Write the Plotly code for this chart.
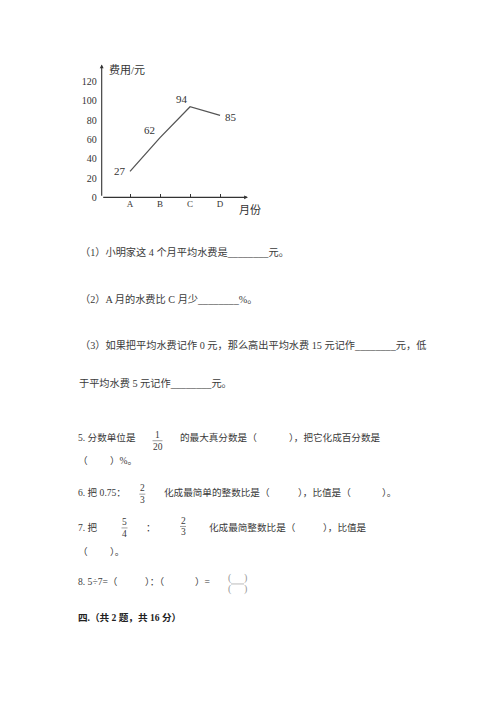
import plotly.graph_objects as go

# ---- data ----
months = ["A", "B", "C", "D"]
fees = [27, 62, 94, 85]
y_ticks = [0, 20, 40, 60, 80, 100, 120]
y_title = "费用/元"
x_title = "月份"

# the page body has an 8px margin, so the figure is drawn 8px in from the corner
OFF = 8
W, H = 500 - 2 * OFF, 707 - 2 * OFF
SERIF = "Liberation Serif, Noto Sans CJK SC, serif"
TXT = "#3a3a3a"


def px(x):
    return (x - OFF) / W


def py(y):
    return 1 - (y - OFF) / H


xs = list(range(len(months)))
x_lo, x_hi = -0.943, 3.93
y_lo, y_hi = 0, 137.8

fig = go.Figure()
fig.add_trace(go.Scatter(
    x=xs, y=fees, mode="lines",
    line=dict(color="#555555", width=1.3),
    hoverinfo="skip", showlegend=False,
))

ann = []
# axis arrows
ann.append(dict(x=x_hi, y=0, ax=x_lo, ay=0, xref="x", yref="y", axref="x", ayref="y",
                showarrow=True, arrowhead=2, arrowsize=0.7, arrowwidth=1.1,
                arrowcolor="#333333", text=""))
ann.append(dict(x=x_lo, y=y_hi, ax=x_lo, ay=0, xref="x", yref="y", axref="x", ayref="y",
                showarrow=True, arrowhead=2, arrowsize=0.7, arrowwidth=1.1,
                arrowcolor="#333333", text=""))

# value labels
offsets = [("right", -2, 0), ("right", -3, 8), ("right", 0, 8), ("left", 3, -2)]
for xi, v, (anc, dx, dy) in zip(xs, fees, offsets):
    ann.append(dict(x=xi, y=v, xref="x", yref="y", text=str(v), showarrow=False,
                    xanchor=anc, yanchor="middle", xshift=dx, yshift=dy,
                    font=dict(family=SERIF, size=11, color="#333333")))

# axis titles
ann.append(dict(x=px(107), y=py(71), xref="paper", yref="paper", text=y_title,
                showarrow=False, xanchor="left", yanchor="middle",
                font=dict(family=SERIF, size=11, color="#333333")))
ann.append(dict(x=px(236.5), y=py(212), xref="paper", yref="paper", text=x_title,
                showarrow=False, xanchor="left", yanchor="middle",
                font=dict(family=SERIF, size=11, color="#333333")))


def T(x, y, s, size=10.2, anchor="left", bold=False, color=TXT):
    if bold:
        s = "<b>" + s + "</b>"
    ann.append(dict(x=px(x), y=py(y), xref="paper", yref="paper", text=s,
                    showarrow=False, xanchor=anchor, yanchor="middle",
                    font=dict(family=SERIF, size=size, color=color)))


shapes = []


def frac(xc, y_num, y_den, num, den, size=9.5, bar=True, half=5):
    T(xc, y_num, num, size=size, anchor="center")
    T(xc, y_den, den, size=size, anchor="center")
    if bar:
        yb = (y_num + y_den) / 2
        shapes.append(dict(type="line", xref="paper", yref="paper",
                           x0=px(xc - half), x1=px(xc + half), y0=py(yb), y1=py(yb),
                           line=dict(color="#888888", width=0.8)))


# questions (1)-(3)
T(78, 254, "（1）小明家这 4 个月平均水费是________元。")
T(78, 302, "（2）A 月的水费比 C 月少________%。")
T(78, 348, "（3）如果把平均水费记作 0 元，那么高出平均水费 15 元记作________元，低")
T(77, 386, "于平均水费 5 元记作________元。")

QS = 9.6
# 5
T(76, 441, "5. 分数单位是", size=QS)
frac(157.5, 438.5, 450.5, "1", "20", half=5)
T(178, 441, "的最大真分数是（", size=QS)
T(383, 441, "），把它化成百分数是", size=QS, anchor="right")
T(76, 464, "（", size=QS)
T(108, 464, "）%。", size=QS)
# 6
T(76, 497, "6. 把 0.75：", size=QS)
frac(142.3, 492.5, 504.3, "2", "3", half=3)
T(162, 497, "化成最简单的整数比是（", size=QS)
T(296, 497, "），比值是（", size=QS)
T(380, 497, "）。", size=QS)
# 7
T(76, 532, "7. 把", size=QS)
frac(124.5, 526, 539, "5", "4", half=3)
T(151, 532, "：", size=QS, anchor="center")
frac(183, 525, 537, "2", "3", half=3)
T(207, 532, "化成最简整数比是（", size=QS)
T(321, 532, "），比值是", size=QS)
T(76, 556, "（", size=QS)
T(108, 556, "）。", size=QS)
# 8
T(76, 587, "8. 5÷7=（", size=QS)
T(143, 587, "）：（", size=QS)
T(193, 587, "）=", size=QS)
for yy in (583, 594):
    T(230, yy, "(", size=10, anchor="center", color="#999999")
    T(245, yy, ")", size=10, anchor="center", color="#999999")
shapes.append(dict(type="line", xref="paper", yref="paper",
                   x0=px(231), x1=px(244), y0=py(589), y1=py(589),
                   line=dict(color="#aaaaaa", width=0.8)))
# header
T(76, 623, "四.（共 2 题，共 16 分）", size=QS, bold=True, color="#222222")

fig.update_layout(
    width=W, height=H,
    margin=dict(l=0, r=0, t=0, b=0),
    paper_bgcolor="white", plot_bgcolor="white",
    showlegend=False,
    xaxis=dict(domain=[px(101.7), px(248)], range=[x_lo, x_hi],
               tickvals=xs, ticktext=months, ticks="inside", ticklen=3,
               tickcolor="#333333", showgrid=False, zeroline=False, showline=False,
               tickfont=dict(family=SERIF, size=9, color="#333333"), fixedrange=True),
    yaxis=dict(domain=[py(199), py(65)], range=[y_lo, y_hi],
               tickvals=y_ticks, ticks="", showgrid=False, zeroline=False,
               showline=False, ticklabelstandoff=4,
               tickfont=dict(family=SERIF, size=10, color="#333333"), fixedrange=True),
    annotations=ann,
    shapes=shapes,
)

fig.write_html("out.html")
